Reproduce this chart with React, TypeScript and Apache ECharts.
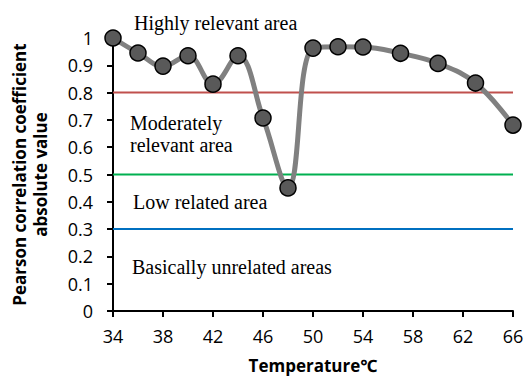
import React, { useEffect, useRef } from "react";
import * as echarts from "echarts";

const temperatures = [34, 36, 38, 40, 42, 44, 46, 48, 50, 52, 54, 57, 60, 63, 66];
const pearsonAbs = [1.0, 0.945, 0.897, 0.935, 0.831, 0.935, 0.707, 0.451, 0.963, 0.968, 0.967, 0.944, 0.907, 0.835, 0.681];
const thresholds = [
  { value: 0.8, color: "#C0504D" },
  { value: 0.5, color: "#00B050" },
  { value: 0.3, color: "#0070C0" },
];
const areaLabels = [
  { text: "Highly relevant area", x: 134, y: 12 },
  { text: "Moderately\nrelevant area", x: 130, y: 112 },
  { text: "Low related area", x: 133, y: 191 },
  { text: "Basically unrelated areas", x: 132, y: 256 },
];

export default function App() {
  const ref = useRef<HTMLDivElement>(null);
  useEffect(() => {
    const chart = echarts.init(ref.current!, null, { renderer: "svg" });
    const sans = "'Open Sans', 'Noto Sans', sans-serif";
    chart.setOption({
      animation: false,
      backgroundColor: "#ffffff",
      grid: { left: 113, right: 15, top: 38, bottom: 65, outerBoundsMode: "none", containLabel: false },
      xAxis: {
        type: "value",
        min: 34,
        max: 66,
        interval: 4,
        name: "Temperature℃",
        nameLocation: "middle",
        nameGap: 46,
        nameTextStyle: { fontFamily: sans, fontWeight: "bold", fontSize: 17, color: "#000" },
        axisLine: { show: true, lineStyle: { color: "#000", width: 2 } },
        axisTick: { show: true, length: 6, lineStyle: { color: "#000", width: 2 } },
        axisLabel: { fontFamily: sans, fontSize: 18, color: "#000", margin: 16 },
        splitLine: { show: false },
      },
      yAxis: {
        type: "value",
        min: 0,
        max: 1,
        interval: 0.1,
        name: "Pearson correlation coefficient\nabsolute value",
        nameLocation: "middle",
        nameGap: 62,
        nameTextStyle: { fontFamily: sans, fontWeight: "bold", fontSize: 17, color: "#000", lineHeight: 21 },
        axisLine: { show: true, lineStyle: { color: "#000", width: 2 } },
        axisTick: { show: true, length: 6, lineStyle: { color: "#000", width: 2 } },
        axisLabel: {
          fontFamily: sans,
          fontSize: 18,
          color: "#000",
          margin: 20,
          formatter: (v: number) => String(Math.round(v * 10) / 10),
        },
        splitLine: { show: false },
      },
      graphic: areaLabels.map((a) => ({
        type: "text",
        left: a.x,
        top: a.y,
        style: {
          text: a.text,
          fontFamily: "'Liberation Serif', 'Times New Roman', serif",
          fontSize: 20,
          lineHeight: 22,
          fill: "#000",
        },
        z: 10,
      })),
      series: [
        ...thresholds.map((t) => ({
          type: "line",
          data: [
            [34, t.value],
            [66, t.value],
          ],
          symbol: "none",
          lineStyle: { color: t.color, width: 2 },
          silent: true,
          z: 1,
        })),
        {
          type: "line",
          data: temperatures.map((t, i) => [t, pearsonAbs[i]]),
          smooth: 0.4,
          symbol: "circle",
          symbolSize: 16,
          showAllSymbol: true,
          lineStyle: { color: "#808080", width: 5 },
          itemStyle: { color: "#595959", borderColor: "#000", borderWidth: 1.5 },
          z: 5,
        },
      ],
    });
    return () => chart.dispose();
  }, []);
  return <div ref={ref} style={{ width: 528, height: 376, position: "absolute", left: 0, top: 0 }} />;
}
